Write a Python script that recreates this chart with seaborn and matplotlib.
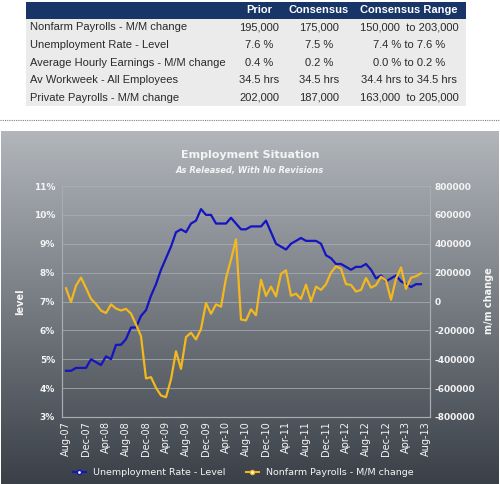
"""Employment Situation: consensus table plus unemployment rate vs payrolls chart."""

import matplotlib

matplotlib.use("Agg")
import matplotlib.pyplot as plt
import numpy as np
import pandas as pd
import seaborn as sns
from matplotlib.lines import Line2D

# consensus table
row_labels = [
    "Nonfarm Payrolls - M/M change",
    "Unemployment Rate - Level",
    "Average Hourly Earnings - M/M change",
    "Av Workweek - All Employees",
    "Private Payrolls - M/M change",
]
prior = ["195,000", "7.6 %", "0.4 %", "34.5 hrs", "202,000"]
consensus = ["175,000", "7.5 %", "0.2 %", "34.5 hrs", "187,000"]
consensus_range = [
    "150,000  to 203,000",
    "7.4 % to 7.6 %",
    "0.0 % to 0.2 %",
    "34.4 hrs to 34.5 hrs",
    "163,000  to 205,000",
]
headers = ["Prior", "Consensus", "Consensus Range"]

# chart series, monthly from Aug-07 (as released)
unemployment = [
    4.6, 4.6, 4.7, 4.7, 4.7, 5.0, 4.9, 4.8, 5.1, 5.0, 5.5, 5.5,
    5.7, 6.1, 6.1, 6.5, 6.7, 7.2, 7.6, 8.1, 8.5, 8.9, 9.4, 9.5,
    9.4, 9.7, 9.8, 10.2, 10.0, 10.0, 9.7, 9.7, 9.7, 9.9, 9.7, 9.5,
    9.5, 9.6, 9.6, 9.6, 9.8, 9.4, 9.0, 8.9, 8.8, 9.0, 9.1, 9.2,
    9.1, 9.1, 9.1, 9.0, 8.6, 8.5, 8.3, 8.3, 8.2, 8.1, 8.2, 8.2,
    8.3, 8.1, 7.8, 7.9, 7.7, 7.8, 7.9, 7.7, 7.6, 7.5, 7.6, 7.6,
]
payrolls = [
    92000, -4000, 110000, 166000, 94000, 18000, -17000, -63000, -80000, -20000, -49000, -62000,
    -51000, -84000, -159000, -240000, -533000, -524000, -598000, -651000, -663000, -539000, -345000, -467000,
    -247000, -216000, -263000, -190000, -11000, -85000, -20000, -36000, 162000, 290000, 431000, -125000,
    -131000, -54000, -95000, 151000, 39000, 103000, 36000, 192000, 216000, 40000, 54000, 18000,
    117000, 0, 103000, 80000, 120000, 200000, 243000, 227000, 120000, 115000, 69000, 80000,
    163000, 96000, 114000, 171000, 146000, 12000, 157000, 236000, 88000, 165000, 175000, 195000,
]
x_labels = [
    "Aug-07", "Dec-07", "Apr-08", "Aug-08", "Dec-08", "Apr-09", "Aug-09", "Dec-09", "Apr-10", "Aug-10",
    "Dec-10", "Apr-11", "Aug-11", "Dec-11", "Apr-12", "Aug-12", "Dec-12", "Apr-13", "Aug-13",
]
left_ticks = [3, 4, 5, 6, 7, 8, 9, 10, 11]
right_ticks = [-800000, -600000, -400000, -200000, 0, 200000, 400000, 600000, 800000]

BLUE = "#1414c0"
GOLD = "#f2b81e"
WHITE = "#f4f4f4"

df = pd.DataFrame({"month": np.arange(len(unemployment)), "rate": unemployment, "nfp": payrolls})

fig = plt.figure(figsize=(5, 4.84), dpi=100)

# overlay in pixel coordinates for table, separator and panel background
bg = fig.add_axes([0, 0, 1, 1], zorder=0)
bg.set_xlim(0, 500)
bg.set_ylim(484, 0)
bg.axis("off")

tfont = "Liberation Sans"
bg.add_patch(plt.Rectangle((26, 1.5), 440, 17, color="#173567", lw=0))
bg.add_patch(plt.Rectangle((26, 18.5), 440, 87.5, color="#ebebeb", lw=0))
col_x = [259, 319, 409]
for cx, h in zip(col_x, headers):
    bg.text(cx, 10, h, ha="center", va="center", color="white", fontsize=8,
            fontweight="bold", family=tfont)
for i, lab in enumerate(row_labels):
    y = 27.5 + i * 17.6
    bg.text(30.5, y, lab, ha="left", va="center", color="#2a2a2a", fontsize=8, family=tfont)
    for cx, vals in zip(col_x, [prior, consensus, consensus_range]):
        bg.text(cx, y, vals[i], ha="center", va="center", color="#2a2a2a", fontsize=8, family=tfont)

bg.plot([0, 500], [120, 120], color="#808080", lw=0.8, ls=(0, (1, 1)))

top_c = np.array([178, 182, 187]) / 255
bot_c = np.array([58, 64, 72]) / 255
t = np.linspace(0, 1, 256)[:, None, None]
grad = top_c * (1 - t) + bot_c * t
bg.imshow(grad, extent=(1, 499, 484, 131), aspect="auto", interpolation="bilinear")

bg.text(250, 155, "Employment Situation", ha="center", va="center", color=WHITE,
        fontsize=8, fontweight="bold")
bg.text(250, 170, "As Released, With No Revisions", ha="center", va="center", color=WHITE,
        fontsize=6, fontweight="bold", style="italic")
bg.text(20, 302, "level", ha="center", va="center", rotation=90, color=WHITE,
        fontsize=7, fontweight="bold")
bg.text(489, 301, "m/m change", ha="center", va="center", rotation=90, color=WHITE,
        fontsize=7, fontweight="bold")

# chart
ax = fig.add_axes([62 / 500, 1 - 417 / 484, 368 / 500, 231 / 484], zorder=1)
ax.patch.set_visible(False)
ax2 = ax.twinx()
ax2.patch.set_visible(False)

for a in (ax, ax2):
    for s in a.spines.values():
        s.set_color("#a8adb3")
        s.set_linewidth(0.8)

ax.set_ylim(3, 11)
ax.set_yticks(left_ticks)
ax.set_yticklabels([f"{v}%" for v in left_ticks])
ax.grid(axis="y", color="#a8adb3", lw=0.7, alpha=0.8)
ax.set_axisbelow(True)

sns.lineplot(data=df, x="month", y="rate", ax=ax, color=BLUE, lw=1.6, zorder=3)
sns.lineplot(data=df, x="month", y="nfp", ax=ax2, color=GOLD, lw=1.6, zorder=2)

ax2.set_ylim(-800000, 800000)
ax2.set_yticks(right_ticks)
ax2.set_yticklabels([str(v) for v in right_ticks])

ax.set_xlim(-0.8, 72.8)
ax.set_xticks(np.arange(0, 4 * len(x_labels), 4))
ax.set_xticklabels(x_labels, rotation=90)
ax.set_xlabel("")
ax.set_ylabel("")
ax2.set_ylabel("")

ax.tick_params(axis="x", length=0, pad=3, labelsize=7, labelcolor=WHITE)
ax.tick_params(axis="y", length=0, pad=5, labelsize=6.5, labelcolor=WHITE)
ax2.tick_params(axis="y", length=0, pad=3, labelsize=6.5, labelcolor=WHITE)
for lbl in ax.get_yticklabels() + ax2.get_yticklabels():
    lbl.set_fontweight("bold")

handles = [
    Line2D([], [], color=BLUE, lw=1.5, marker="o", ms=3, mfc="white", mec=BLUE),
    Line2D([], [], color=GOLD, lw=1.5, marker="o", ms=3, mfc="white", mec=GOLD),
]
fig.legend(handles, ["Unemployment Rate - Level", "Nonfarm Payrolls - M/M change"],
           loc="center", bbox_to_anchor=(0.487, 0.023), ncol=2, frameon=False,
           fontsize=6.8, labelcolor=WHITE, handlelength=1.3, handletextpad=0.8,
           columnspacing=2.2)

fig.savefig("out.png", dpi=100)
